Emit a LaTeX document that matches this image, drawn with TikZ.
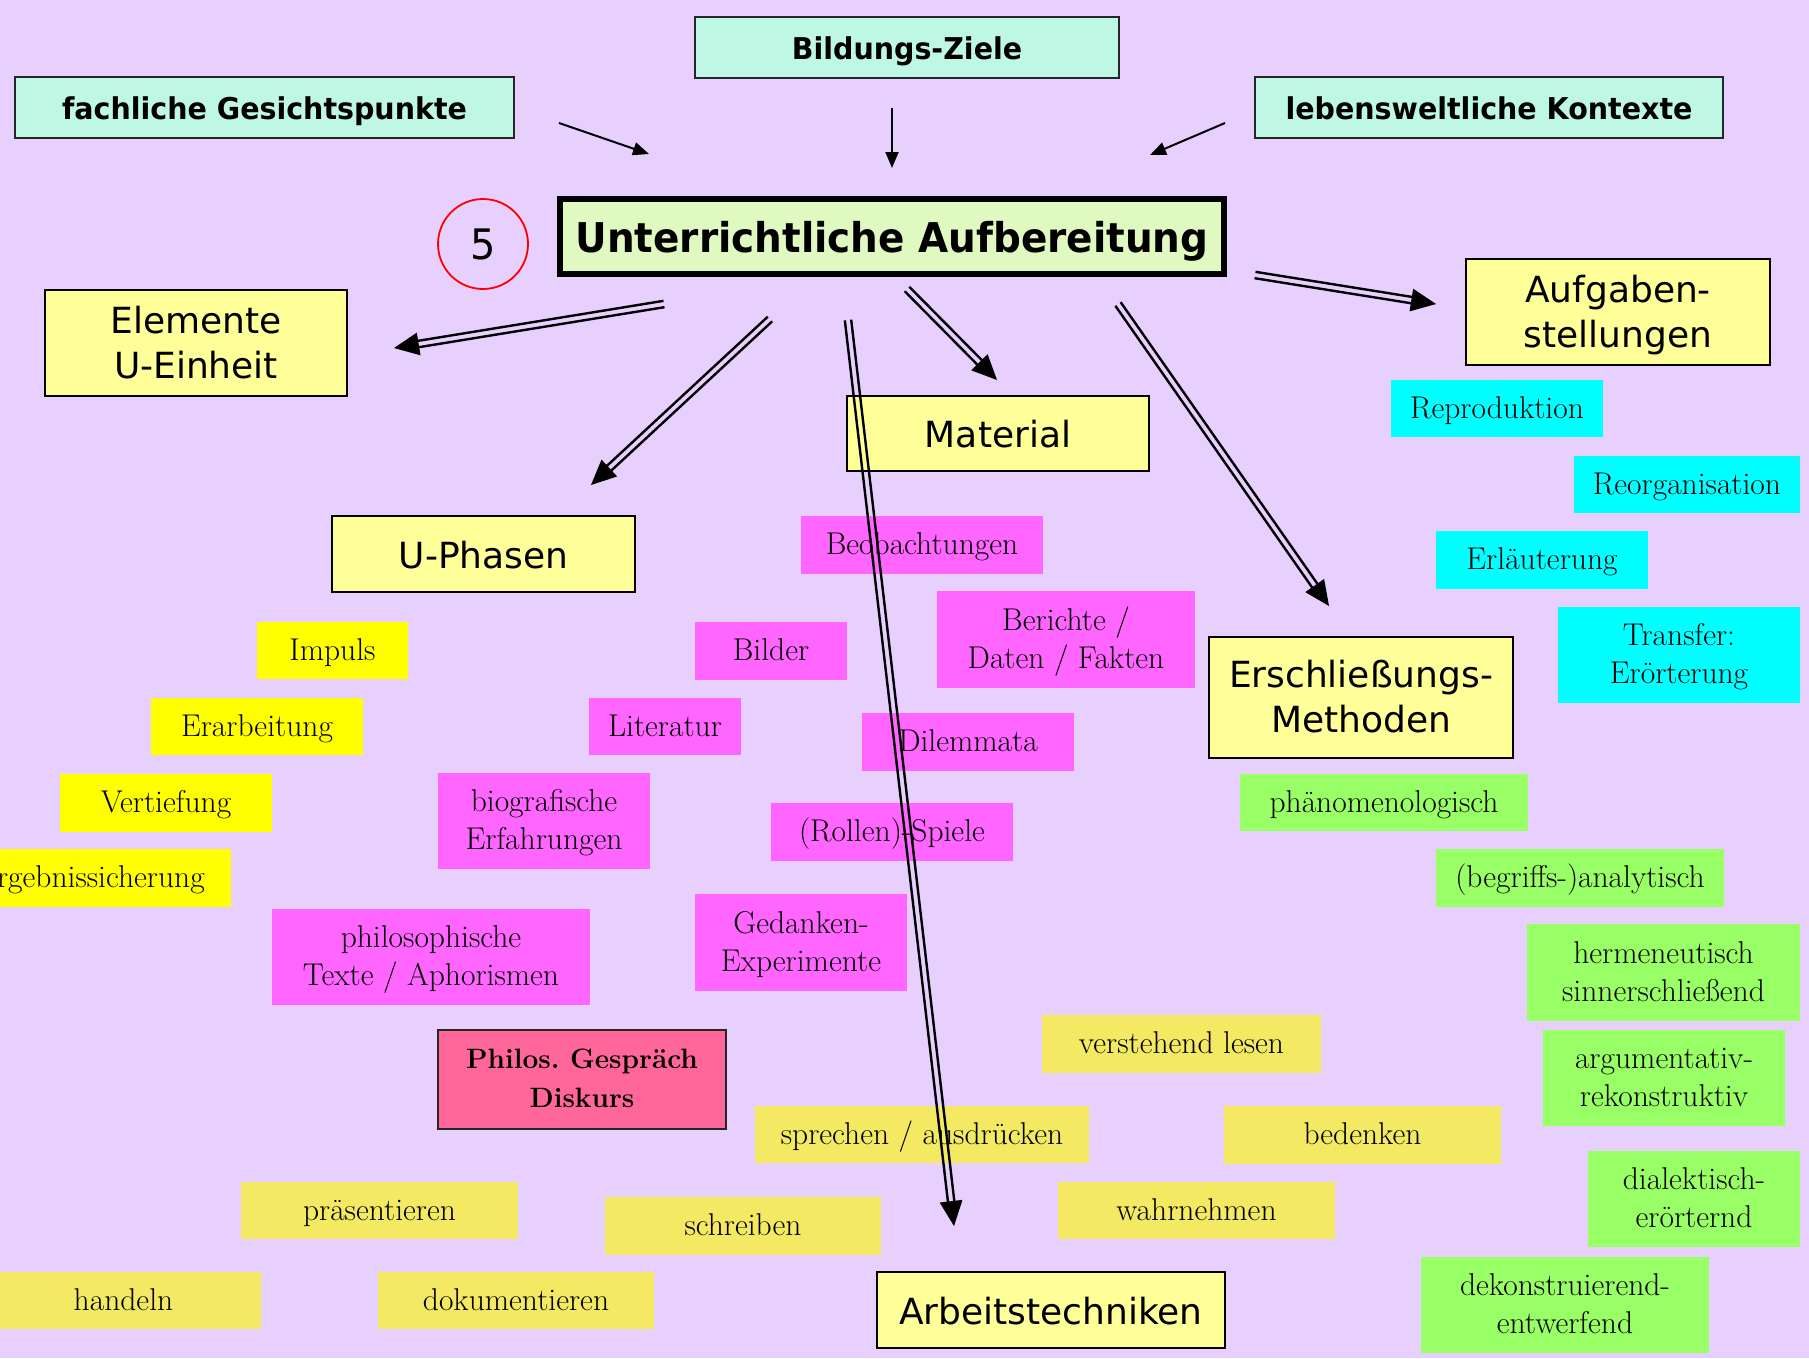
\documentclass[tikz,border=0pt]{standalone}
\usepackage{fontspec}
\usetikzlibrary{calc,arrows.meta}
\newfontfamily\hdfont{DejaVu Sans}[FakeStretch=0.95]
\newfontfamily\comic{DejaVu Sans}
\frenchspacing

\definecolor{bgc}{HTML}{E8D0FE}
\definecolor{mintc}{HTML}{BEF7E4}
\definecolor{mainc}{HTML}{E0F9C0}
\definecolor{hdrc}{HTML}{FFFF99}
\definecolor{pinkc}{HTML}{FF66FF}
\definecolor{cyanc}{HTML}{00FFFF}
\definecolor{greenc}{HTML}{99FF66}
\definecolor{yelc}{HTML}{FFFF00}
\definecolor{wtc}{HTML}{F4E963}
\definecolor{philc}{HTML}{FF6699}

\tikzset{
  sz/.style 2 args={minimum width=#1pt, minimum height=#2pt},
  mint/.style={draw=black!85, line width=1.8pt, fill=mintc, inner sep=0pt,
    text height=30pt, text depth=7pt,
    font=\hdfont\bfseries\fontsize{30}{36}\selectfont},
  mainbox/.style={draw=black, line width=6pt, fill=mainc, inner sep=0pt,
    text height=41pt, text depth=10pt,
    font=\hdfont\bfseries\fontsize{41}{48}\selectfont},
  hdr/.style={draw=black, line width=2.5pt, fill=hdrc, inner sep=0pt, align=center,
    font=\comic\fontsize{36}{45}\selectfont},
  hdrone/.style={hdr, text height=36pt, text depth=8pt},
  hdrtwo/.style={hdr, text height=78pt, text depth=8pt},
  item/.style={fill=#1, inner sep=0pt, align=center,
    font=\fontsize{31.5}{38}\selectfont},
  one/.style={text height=24pt, text depth=5pt},
  two/.style={text height=62pt, text depth=5pt},
  thinarrow/.style={line width=2pt, -{Triangle[length=16pt,width=13pt]}},
  dblline/.style={line width=2.4pt, black},
}

% double-lined arrow with a filled head: start, tip
\newcommand\dblarrow[2]{%
  \coordinate (dbB) at ($(#2)!20pt!(#1)$);
  \draw[dblline] ($(#1)!3.2pt!90:(#2)$) -- ($(dbB)!3.2pt!-90:(#1)$);
  \draw[dblline] ($(#1)!3.2pt!-90:(#2)$) -- ($(dbB)!3.2pt!90:(#1)$);
  \fill (#2) -- ($(#2)!27.5pt!24.7:(#1)$) -- ($(#2)!27.5pt!-24.7:(#1)$) -- cycle;}

\begin{document}
\begin{tikzpicture}[x=1pt,y=-1pt]
\useasboundingbox (0,0) rectangle (1809,1358);
\fill[bgc] (0,0) rectangle (1809,1358);
\begin{scope}
\clip (0,0) rectangle (1809,1358);

% sources of the unit planning
\node[mint, sz={424}{61}] (bz) at (907,47.5) {Bildungs-Ziele};
\node[mint, sz={499}{61}] (fg) at (264.5,107.5) {fachliche Gesichtspunkte};
\node[mint, sz={468}{61}] (lk) at (1489,107.5) {lebensweltliche Kontexte};

% centre
\node[mainbox, sz={664}{75}] (main) at (892,236.5) {Unterrichtliche Aufbereitung};
\node[circle, draw=red, line width=1.8pt, minimum size=90pt, inner sep=0pt,
  font=\hdfont\fontsize{42}{48}\selectfont] (num) at (483,244) {5};

% main branches
\node[hdrtwo, sz={302}{106}] (el) at (196,343) {Elemente\\U-Einheit};
\node[hdrone, sz={303}{76}] (up) at (483.5,554) {U-Phasen};
\node[hdrone, sz={302}{75}] (ma) at (998,433.5) {Material};
\node[hdrtwo, sz={304}{106}] (au) at (1618,312) {Aufgaben-\\stellungen};
\node[hdrtwo, sz={304}{121}] (er) at (1361,697.5) {Erschließungs-\\Methoden};
\node[hdrone, sz={348}{76}] (at) at (1051,1310) {Arbeitstechniken};

% lesson phases
\node[item=yelc, one, sz={151}{57}] (imp) at (332.5,650.5) {Impuls};
\node[item=yelc, one, sz={212}{57}] (era) at (257,726.5) {Erarbeitung};
\node[item=yelc, one, sz={212}{58}] (vert) at (166,803) {Vertiefung};
\node[item=yelc, one, sz={280}{58}] (erg) at (91,878) {Ergebnissicherung};

% material
\node[item=pinkc, one, sz={242}{58}] (beo) at (922,545) {Beobachtungen};
\node[item=pinkc, one, sz={152}{58}] (bil) at (771,651) {Bilder};
\node[item=pinkc, two, sz={258}{97}] (ber) at (1066,639.5) {Berichte /\\Daten / Fakten};
\node[item=pinkc, one, sz={152}{57}] (lit) at (665,726.5) {Literatur};
\node[item=pinkc, one, sz={212}{58}] (dil) at (968,742) {Dilemmata};
\node[item=pinkc, two, sz={212}{96}] (bio) at (544,821) {biografische\\Erfahrungen};
\node[item=pinkc, one, sz={242}{58}] (rol) at (892,832) {(Rollen)-Spiele};
\node[item=pinkc, two, sz={318}{96}] (phi) at (431,957) {philosophische\\Texte / Aphorismen};
\node[item=pinkc, two, sz={212}{97}] (ged) at (801,942.5) {Gedanken-\\Experimente};
\node[item=philc, draw=black!85, line width=1.8pt, sz={288}{99},
  text height=63pt, text depth=8pt,
  font=\bfseries\fontsize{28}{39}\selectfont] (pg) at (582,1079.5) {Philos. Gespräch\\Diskurs};

% tasks
\node[item=cyanc, one, sz={212}{57}] (rep) at (1497,408.5) {Reproduktion};
\node[item=cyanc, one, sz={226}{57}] (reo) at (1687,484.5) {Reorganisation};
\node[item=cyanc, one, sz={212}{58}] (erl) at (1542,560) {Erläuterung};
\node[item=cyanc, two, sz={242}{96}] (tra) at (1679,655) {Transfer:\\Erörterung};

% methods
\node[item=greenc, one, sz={288}{57}] (pha) at (1384,802.5) {phänomenologisch};
\node[item=greenc, one, sz={288}{58}] (beg) at (1580,878) {(begriffs-)analytisch};
\node[item=greenc, two, sz={273}{97}] (her) at (1663.5,972.5) {hermeneutisch\\sinnerschließend};
\node[item=greenc, two, sz={242}{96}] (arg) at (1664,1078) {argumentativ-\\rekonstruktiv};
\node[item=greenc, two, sz={212}{96}] (dia) at (1694,1199) {dialektisch-\\erörternd};
\node[item=greenc, two, sz={288}{96}] (dek) at (1565,1305) {dekonstruierend-\\entwerfend};

% working techniques
\node[item=wtc, one, sz={279}{58}] (vle) at (1181.5,1044) {verstehend lesen};
\node[item=wtc, one, sz={334}{57}] (spr) at (922,1134.5) {sprechen / ausdrücken};
\node[item=wtc, one, sz={277}{58}] (bed) at (1362.5,1135) {bedenken};
\node[item=wtc, one, sz={277}{57}] (pra) at (379.5,1210.5) {präsentieren};
\node[item=wtc, one, sz={276}{58}] (sch) at (743,1226) {schreiben};
\node[item=wtc, one, sz={277}{57}] (wah) at (1196.5,1210.5) {wahrnehmen};
\node[item=wtc, one, sz={275}{57}] (han) at (123.5,1300.5) {handeln};
\node[item=wtc, one, sz={276}{57}] (dok) at (516,1300.5) {dokumentieren};

% arrow ends
\coordinate (fgT) at (559,123);  \coordinate (fgH) at (649,154);
\coordinate (bzT) at (892,108);  \coordinate (bzH) at (892,168);
\coordinate (lkT) at (1225,123); \coordinate (lkH) at (1150,155);
\coordinate (elT) at (664,304);  \coordinate (elH) at (394,348);
\coordinate (upT) at (770,319);  \coordinate (upH) at (591,485);
\coordinate (maT) at (907,289);  \coordinate (maH) at (997,380);
\coordinate (atT) at (848,320);  \coordinate (atH) at (954,1226);
\coordinate (erT) at (1118,304); \coordinate (erH) at (1329,606);
\coordinate (auT) at (1255,275); \coordinate (auH) at (1436,304);

\draw[thinarrow] (fgT) -- (fgH);
\draw[thinarrow] (bzT) -- (bzH);
\draw[thinarrow] (lkT) -- (lkH);

\dblarrow{elT}{elH}
\dblarrow{upT}{upH}
\dblarrow{maT}{maH}
\dblarrow{atT}{atH}
\dblarrow{erT}{erH}
\dblarrow{auT}{auH}
\end{scope}
\end{tikzpicture}
\end{document}
